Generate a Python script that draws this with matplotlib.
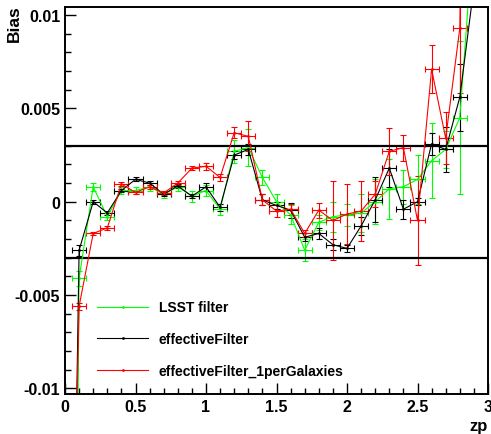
import numpy as np
import matplotlib
matplotlib.use('Agg')
import matplotlib.pyplot as plt
from matplotlib.lines import Line2D
from matplotlib.ticker import MultipleLocator, FixedLocator, FixedFormatter

plt.rcParams['font.family'] = ['Liberation Sans', 'DejaVu Sans']
plt.rcParams['font.weight'] = 'bold'

# bin centres in zp
zp = [0.0, 0.1, 0.2, 0.3, 0.4, 0.5, 0.6, 0.7, 0.8, 0.9,
      1.0, 1.1, 1.2, 1.3, 1.4, 1.5, 1.6, 1.7, 1.8, 1.9,
      2.0, 2.1, 2.2, 2.3, 2.4, 2.5, 2.6, 2.7, 2.8, 2.9]
zp_err = 0.05

# LSST filter
bias_lsst = [-0.09, -0.0041, 0.0008, -0.0008, 0.0006, 0.0006, 0.0008, 0.0004, 0.0008, 0.0003,
             0.0006, -0.0004, 0.0027, 0.0029, 0.0013, 0.0000, -0.0007, -0.0026, -0.0011, -0.0008,
             -0.0007, -0.0006, 0.0000, 0.0007, 0.0008, 0.0012, 0.0022, 0.0028, 0.0045, 0.0148]
err_lsst = [0.0, 0.0004, 0.0002, 0.0002, 0.0002, 0.0002, 0.0002, 0.0002, 0.0002, 0.0003,
            0.0003, 0.0003, 0.0006, 0.0010, 0.0004, 0.0004, 0.0005, 0.0006, 0.0004, 0.0008,
            0.0006, 0.0010, 0.0012, 0.0016, 0.0009, 0.0013, 0.0020, 0.0010, 0.0041, 0.0]

# effectiveFilter
bias_eff = [-0.05, -0.0026, 0.0000, -0.0006, 0.0006, 0.0012, 0.0010, 0.0004, 0.00085, 0.0003,
            0.0008, -0.0003, 0.0025, 0.0028, 0.0001, -0.0002, -0.00045, -0.0019, -0.0017, -0.0023,
            -0.0025, -0.0013, 0.0001, 0.0018, -0.0004, 0.0000, 0.0031, 0.0028, 0.0056, 0.0115]
err_eff = [0.0, 0.0003, 0.0001, 0.0001, 0.0001, 0.0001, 0.0001, 0.0001, 0.0001, 0.0001,
           0.0002, 0.0002, 0.0002, 0.0003, 0.0003, 0.0002, 0.0004, 0.0002, 0.0003, 0.0003,
           0.0002, 0.0005, 0.0012, 0.0010, 0.0005, 0.0002, 0.0006, 0.0012, 0.0018, 0.0]

# effectiveFilter_1perGalaxies
bias_1per = [-0.04, -0.0056, -0.0017, -0.0014, 0.00095, 0.0005, 0.0008, 0.00047, 0.0010, 0.0018,
             0.0019, 0.0013, 0.0037, 0.0035, 0.0001, -0.0005, -0.0004, -0.0017, -0.00045, -0.0010,
             -0.00066, -0.0005, 0.0004, 0.0027, 0.0029, -0.0010, 0.0071, 0.0034, 0.0093, 0.06]
err_1per = [0.0, 0.0002, 0.0001, 0.0001, 0.0001, 0.0001, 0.0001, 0.0001, 0.0001, 0.0001,
            0.0002, 0.0002, 0.0003, 0.0008, 0.0003, 0.0003, 0.0003, 0.0002, 0.0004, 0.0021,
            0.0016, 0.0016, 0.0007, 0.00125, 0.0007, 0.0024, 0.0013, 0.0014, 0.0035, 0.0]

series = [
    ('LSST filter', bias_lsst, err_lsst, '#00ff00'),
    ('effectiveFilter', bias_eff, err_eff, 'black'),
    ('effectiveFilter_1perGalaxies', bias_1per, err_1per, '#ff0000'),
]

fig = plt.figure(figsize=(4.91, 4.35), dpi=100)
ax = fig.add_axes([65/491, 40/435, 423/491, 387.5/435])

handles = []
for label, b, e, col in series:
    ax.errorbar(zp, b, yerr=e, xerr=zp_err, color=col, lw=0.8, elinewidth=0.8,
                capsize=2.5, capthick=0.8, marker='.', markersize=2)
    handles.append(Line2D([0], [0], color=col, lw=0.8, marker='.', markersize=2))

# +-0.003 reference lines
ax.axhline(0.003, color='black', lw=1.6)
ax.axhline(-0.003, color='black', lw=1.6)

ax.set_xlim(0, 3)
ax.set_ylim(-0.0103, 0.01046)

ax.xaxis.set_minor_locator(MultipleLocator(0.1))
ax.yaxis.set_major_locator(FixedLocator([-0.01, -0.005, 0, 0.005, 0.01]))
ax.yaxis.set_major_formatter(FixedFormatter(['-0.01', '-0.005', '0', '0.005', '0.01']))
ax.yaxis.set_minor_locator(MultipleLocator(0.001))
ax.set_xticks([0, 0.5, 1, 1.5, 2, 2.5, 3])
ax.set_xticklabels(['0', '0.5', '1', '1.5', '2', '2.5', '3'])

ax.tick_params(which='both', direction='in', top=False, right=False, width=1)
ax.tick_params(which='major', length=8, labelsize=11.5, pad=3.5)
ax.tick_params(which='minor', length=4)
for sp in ax.spines.values():
    sp.set_linewidth(1.4)

fig.text(14/491, 1 - 5/435, 'Bias', ha='center', va='top', rotation=90,
         fontsize=12.5, fontweight='bold')
fig.text(488/491, 1/435, 'zp', ha='right', va='bottom', fontsize=12, fontweight='bold')

ax.legend(handles, [s[0] for s in series], loc='upper left',
          bbox_to_anchor=(32/423, (395-301.5)/387.5), frameon=False,
          borderpad=0, borderaxespad=0, handlelength=3.7, handletextpad=0.75,
          labelspacing=1.28, prop={'size': 10, 'weight': 'bold'})

fig.savefig('out.png', dpi=100)
